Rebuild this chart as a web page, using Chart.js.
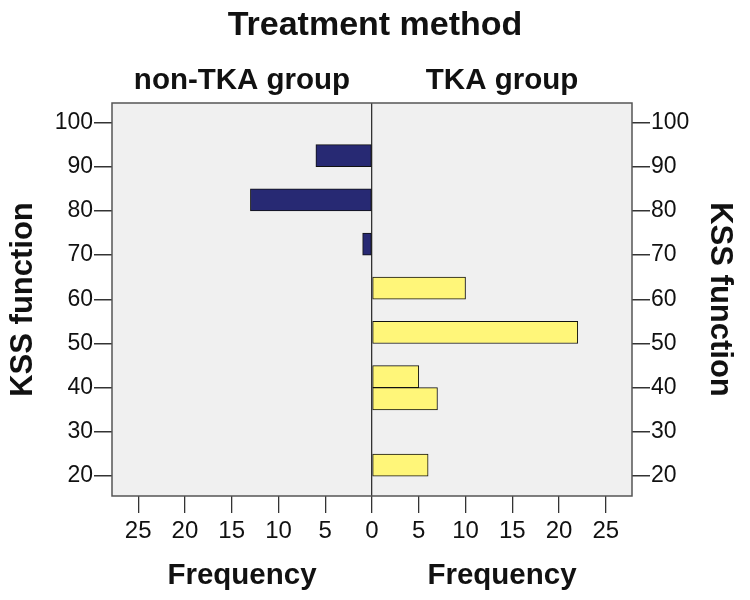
<!DOCTYPE html>
<html lang="en">
<head>
  <meta charset="UTF-8">
  <title>KSS function by treatment method</title>
  <script src="https://cdn.jsdelivr.net/npm/chart.js"></script>
  <style>
    body { margin: 0; background: #fff; }
  </style>
</head>
<body>
<canvas id="kssChart" width="750" height="600"></canvas>

<script>
  // histogram bins: lower edge of each 5-point KSS bin
  const binWidth = 5;
  const groups = ['non-TKA group', 'TKA group'];
  const nonTkaBins = [70, 80, 90];
  const nonTkaFreq = [1, 13, 6];
  const tkaBins = [20, 35, 40, 50, 60];
  const tkaFreq = [6, 7, 5, 22, 10];
  const kssTicks = [20, 30, 40, 50, 60, 70, 80, 90, 100];
  const freqTicks = [-25, -20, -15, -10, -5, 0, 5, 10, 15, 20, 25];

  const fontFamily = '"Liberation Sans", Arial, sans-serif';
  const textColor = '#111';
  Chart.defaults.font.family = fontFamily;
  Chart.defaults.color = textColor;

  const toTicks = list => list.map(v => ({ value: v }));

  // grey plot background, frame and the group / frequency labels
  const panelText = {
    id: 'panelText',
    beforeDraw(chart) {
      const { ctx, chartArea: a } = chart;
      ctx.save();
      ctx.fillStyle = '#f0f0f0';
      ctx.fillRect(a.left, a.top, a.right - a.left, a.bottom - a.top);
      ctx.restore();
    },
    afterDatasetsDraw(chart) {
      const { ctx, chartArea: a } = chart;
      ctx.save();
      ctx.strokeStyle = '#555';
      ctx.lineWidth = 1.5;
      ctx.strokeRect(a.left, a.top, a.right - a.left, a.bottom - a.top);
      ctx.restore();
    },
    afterDraw(chart) {
      const { ctx, chartArea: a } = chart;
      const xs = chart.scales.x;
      const leftX = xs.getPixelForValue(xs.min / 2);
      const rightX = xs.getPixelForValue(xs.max / 2);
      ctx.save();
      ctx.fillStyle = textColor;
      ctx.textAlign = 'center';
      ctx.textBaseline = 'alphabetic';
      ctx.font = 'bold 29.5px ' + fontFamily;
      ctx.fillText(groups[0], leftX, a.top - 14);
      ctx.fillText(groups[1], rightX, a.top - 14);
      ctx.fillText('Frequency', leftX, 584);
      ctx.fillText('Frequency', rightX, 584);
      ctx.restore();
    }
  };

  function yAxis(position, width, titlePad) {
    return {
      type: 'linear',
      position: position,
      offset: false,
      min: 15.5,
      max: 104.4,
      afterBuildTicks: s => { s.ticks = toTicks(kssTicks); },
      afterFit: s => { s.width = width; },
      ticks: { font: { size: 23 }, color: textColor, padding: 1 },
      grid: { offset: false, drawOnChartArea: false, tickLength: 18, color: '#333', lineWidth: 1.5 },
      border: { display: false },
      title: {
        display: true,
        text: 'KSS function',
        color: textColor,
        font: { size: 31, weight: 'bold', lineHeight: 1 },
        padding: { top: titlePad, bottom: 0 }
      }
    };
  }

  new Chart(document.getElementById('kssChart'), {
    type: 'bar',
    data: {
      datasets: [{
        label: groups[0],
        data: nonTkaBins.map((b, i) => ({ y: b + binWidth / 2, x: [-nonTkaFreq[i], 0] })),
        backgroundColor: '#272973',
        yAxisID: 'y'
      }, {
        label: groups[1],
        data: tkaBins.map((b, i) => ({ y: b + binWidth / 2, x: [0, tkaFreq[i]] })),
        backgroundColor: '#fff679',
        yAxisID: 'y'
      }]
    },
    options: {
      responsive: false,
      animation: false,
      indexAxis: 'y',
      grouped: false,
      categoryPercentage: 1,
      barPercentage: 1,
      borderColor: '#111',
      borderWidth: 1,
      borderSkipped: false,
      layout: { padding: 0 },
      plugins: {
        legend: { display: false },
        tooltip: { enabled: false },
        title: {
          display: true,
          text: 'Treatment method',
          color: textColor,
          font: { size: 34, weight: 'bold', lineHeight: 1.2 },
          padding: { top: 5, bottom: 57.2 }
        }
      },
      scales: {
        x: {
          type: 'linear',
          min: -27.8,
          max: 27.8,
          afterBuildTicks: s => { s.ticks = toTicks(freqTicks); },
          afterFit: s => { s.height = 104; },
          ticks: {
            font: { size: 24 },
            color: textColor,
            padding: 4,
            maxRotation: 0,
            autoSkip: false,
            callback: v => Math.abs(v)
          },
          grid: {
            color: c => (c.tick && c.tick.value === 0 ? '#333' : 'rgba(0,0,0,0)'),
            tickColor: '#333',
            tickLength: 17,
            lineWidth: 1.3
          },
          border: { display: false }
        },
        y: yAxis('left', 112, 7.5),
        y2: yAxis('right', 118, 14.5)
      }
    },
    plugins: [panelText]
  });
</script>
</body>
</html>
